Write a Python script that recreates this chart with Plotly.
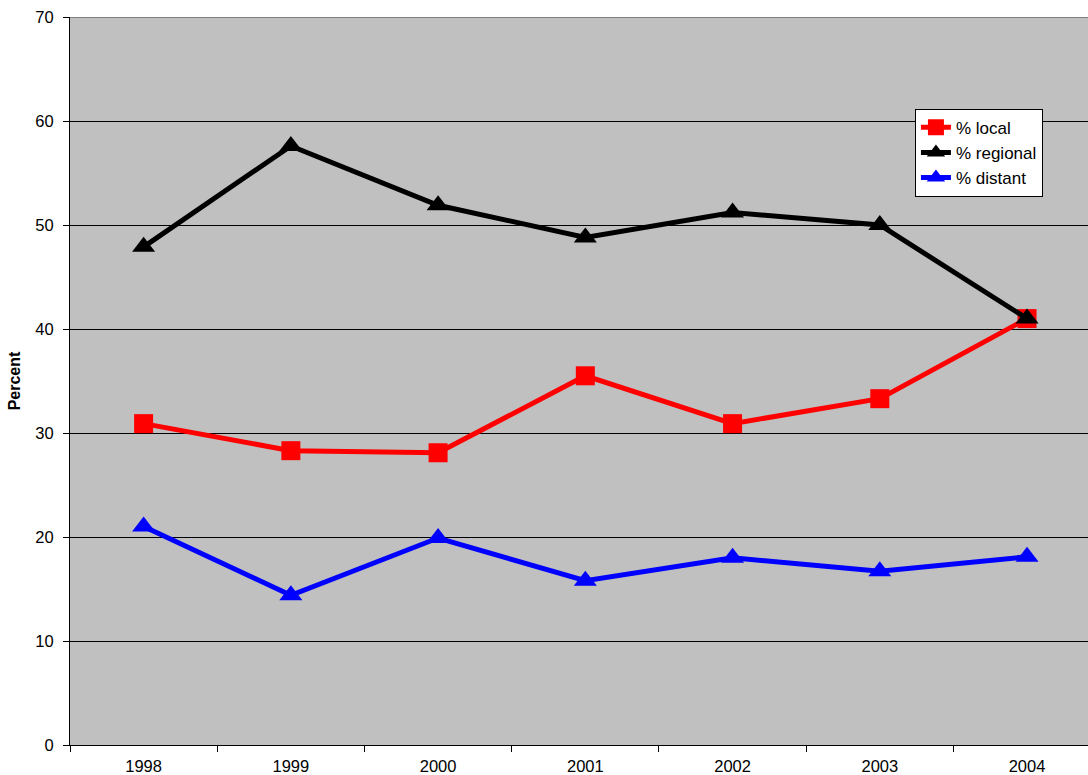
import plotly.graph_objects as go

years = ["1998", "1999", "2000", "2001", "2002", "2003", "2004"]
local = [30.9, 28.3, 28.1, 35.5, 30.9, 33.3, 41.0]
regional = [47.9, 57.6, 51.9, 48.8, 51.2, 50.0, 41.0]
distant = [21.0, 14.4, 19.9, 15.8, 18.0, 16.7, 18.1]

fig = go.Figure()
fig.add_trace(go.Scatter(x=years, y=local, name="% local", mode="lines+markers",
                         line=dict(color="#FF0000", width=5),
                         marker=dict(symbol="square", size=19, color="#FF0000")))
fig.add_trace(go.Scatter(x=years, y=regional, name="% regional", mode="lines+markers",
                         line=dict(color="#000000", width=5),
                         marker=dict(symbol="triangle-up", size=20, color="#000000")))
fig.add_trace(go.Scatter(x=years, y=distant, name="% distant", mode="lines+markers",
                         line=dict(color="#0000FF", width=5),
                         marker=dict(symbol="triangle-up", size=20, color="#0000FF")))

fig.update_layout(
    width=1088, height=775,
    margin=dict(l=70, r=0, t=17, b=30),
    paper_bgcolor="white",
    plot_bgcolor="#C0C0C0",
    font=dict(family="Liberation Sans, Arial, sans-serif", size=16, color="black"),
    legend=dict(x=0.830, y=0.874, xanchor="left", yanchor="top",
                bgcolor="white", bordercolor="black", borderwidth=1,
                font=dict(size=17), tracegroupgap=0, itemwidth=30),
    showlegend=True,
)
fig.update_xaxes(type="category", range=[-0.5, 6.414], tickson="boundaries",
                 ticks="outside", ticklen=6, tickcolor="black", ticklabelstandoff=6,
                 showline=True, linecolor="black", linewidth=1,
                 showgrid=False, tickfont=dict(size=16.5))
fig.update_yaxes(range=[0, 70], dtick=10, ticks="outside", ticklen=6, tickcolor="black",
                 ticklabelstandoff=6,
                 showline=True, linecolor="black", linewidth=1,
                 showgrid=True, gridcolor="black", gridwidth=1, zeroline=False,
                 title=dict(text="<b>Percent</b>", font=dict(size=16), standoff=10),
                 tickfont=dict(size=16.5))
# top border of plot area
fig.add_shape(type="line", xref="paper", yref="y", x0=0, x1=1, y0=70, y1=70,
              line=dict(color="#808080", width=2))
fig.write_html("out.html", config={"displayModeBar": False},
               post_script="document.body.style.margin='0';document.body.style.overflow='hidden';")
